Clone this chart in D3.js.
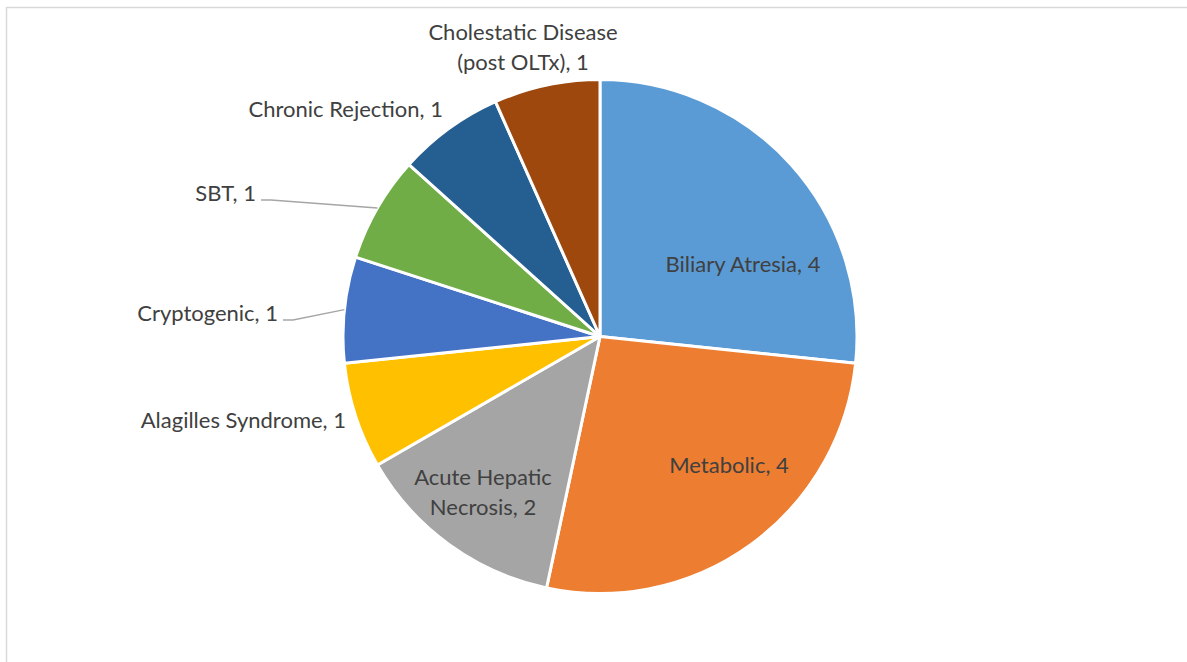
<!DOCTYPE html>
<html>
<head>
<meta charset="utf-8">
<script src="https://cdn.jsdelivr.net/npm/d3@7"></script>
<style>
  html, body { margin: 0; padding: 0; background: #fff; }
  svg { display: block; }
  text { font-family: "Lato", "Open Sans", sans-serif; fill: #404040; }
</style>
</head>
<body>
<svg id="chart" width="1187" height="662"></svg>
<script>
// ---- data ----
const categories = [
  "Biliary Atresia",
  "Metabolic",
  "Acute Hepatic Necrosis",
  "Alagilles Syndrome",
  "Cryptogenic",
  "SBT",
  "Chronic Rejection",
  "Cholestatic Disease (post OLTx)"
];
const values = [4, 4, 2, 1, 1, 1, 1, 1];
const labelLines = [
  ["Biliary Atresia, 4"],
  ["Metabolic, 4"],
  ["Acute Hepatic", "Necrosis, 2"],
  ["Alagilles Syndrome, 1"],
  ["Cryptogenic, 1"],
  ["SBT, 1"],
  ["Chronic Rejection, 1"],
  ["Cholestatic Disease", "(post OLTx), 1"]
];
const colors = ["#5b9bd5", "#ed7d31", "#a5a5a5", "#ffc000", "#4472c4", "#70ad47", "#255e91", "#9e480e"];

// ---- layout ----
const W = 1187, H = 662;
const cx = 600, cy = 336.5, R = 257;
// label placement relative to pie centre
const labelLayout = [
  { dx: 143, dy: -72, anchor: "middle" },
  { dx: 129, dy: 129, anchor: "middle" },
  { dx: -117, dy: 141, anchor: "middle" },
  { dx: -254, dy: 84, anchor: "end" },
  { dx: -322, dy: -23, anchor: "end", leader: true },
  { dx: -344, dy: -143, anchor: "end", leader: true },
  { dx: -157, dy: -227, anchor: "end" },
  { dx: -77, dy: -304, anchor: "middle" }
];

const svg = d3.select("#chart");

svg.append("rect")
  .attr("x", 6.5).attr("y", 7.5)
  .attr("width", W + 20).attr("height", H + 20)
  .attr("fill", "#fff")
  .attr("stroke", "#d9d9d9")
  .attr("stroke-width", 1.5);

const data = categories.map((c, i) => ({ name: c, value: values[i], lines: labelLines[i], color: colors[i] }));

const pie = d3.pie().value(d => d.value).sort(null);
const arcs = pie(data);
const arc = d3.arc().innerRadius(0).outerRadius(R);

const g = svg.append("g").attr("transform", `translate(${cx},${cy})`);

g.selectAll("path.slice")
  .data(arcs)
  .join("path")
  .attr("class", "slice")
  .attr("d", arc)
  .attr("fill", d => d.data.color)
  .attr("stroke", "#fff")
  .attr("stroke-width", 3)
  .attr("stroke-linejoin", "round");

const fs = 22, lh = 29.5;

// leader lines
arcs.forEach((a, i) => {
  const L = labelLayout[i];
  if (!L.leader) return;
  const mid = (a.startAngle + a.endAngle) / 2;
  const px = R * Math.sin(mid), py = -R * Math.cos(mid);
  const ty = L.dy + 6.5;
  const tx = L.dx + 5;
  g.append("path")
    .attr("d", d3.line()([[tx, ty], [tx + 10, ty], [px, py]]))
    .attr("fill", "none")
    .attr("stroke", "#a6a6a6")
    .attr("stroke-width", 1.3);
});

// labels
arcs.forEach((a, i) => {
  const L = labelLayout[i];
  const t = g.append("text")
    .attr("text-anchor", L.anchor)
    .attr("font-size", fs);
  a.data.lines.forEach((ln, j) => {
    t.append("tspan")
      .attr("x", L.dx)
      .attr("y", L.dy + j * lh)
      .attr("dy", "0.35em")
      .text(ln);
  });
});
</script>
</body>
</html>
